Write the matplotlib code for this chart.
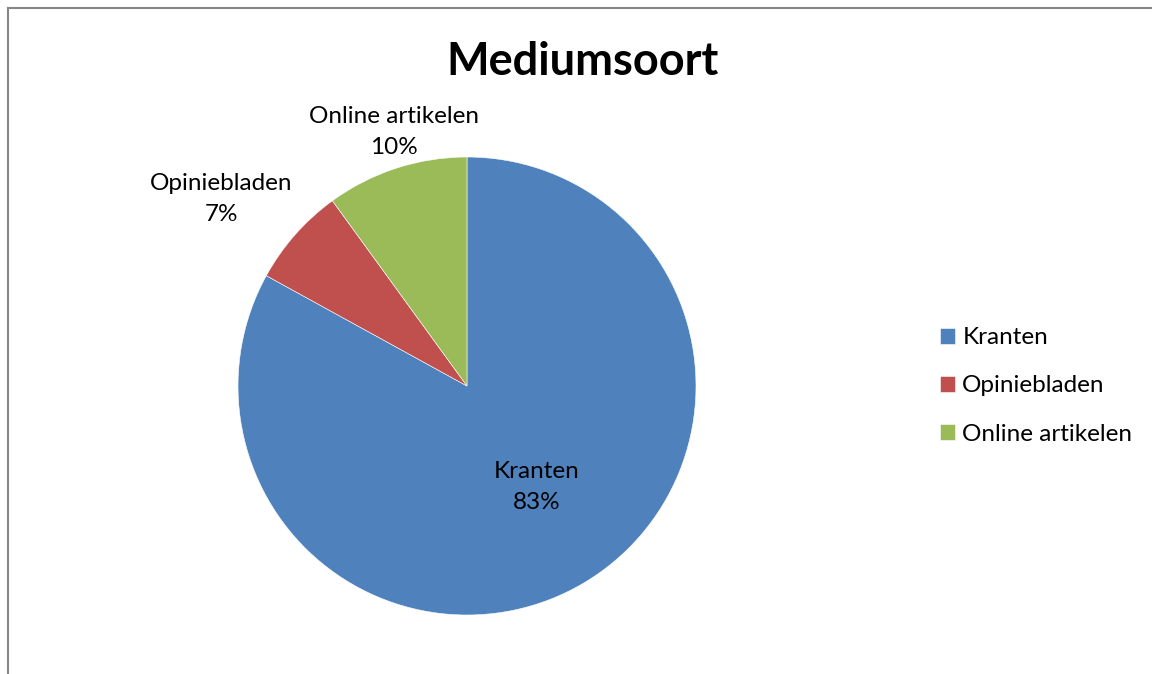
import matplotlib
matplotlib.use("Agg")
import matplotlib.pyplot as plt
from matplotlib.lines import Line2D

plt.rcParams['font.family'] = ['Lato', 'DejaVu Sans']

categories = ["Kranten", "Opiniebladen", "Online artikelen"]
shares = [83, 7, 10]
colors = ["#4F81BD", "#C0504D", "#9BBB59"]

W, H = 1152, 674
fig = plt.figure(figsize=(W / 100, H / 100), dpi=100)

# chart frame (only left and top edges are visible in the crop)
fig.add_artist(Line2D([8 / W, 8 / W], [0, 1 - 8 / H], color="#878787", lw=1.5,
                      transform=fig.transFigure))
fig.add_artist(Line2D([8 / W, 1], [1 - 8 / H, 1 - 8 / H], color="#878787", lw=1.5,
                      transform=fig.transFigure))

cx, cy, r = 467, 386, 229
ax = fig.add_axes([(cx - r) / W, (H - cy - r) / H, 2 * r / W, 2 * r / H])
wedges, _ = ax.pie(shares, colors=colors, startangle=90, counterclock=False,
                   radius=1, wedgeprops=dict(linewidth=0.4, edgecolor="white"))
ax.set_xlim(-1, 1)
ax.set_ylim(-1, 1)
ax.set_aspect("equal")
ax.axis("off")

# data labels, offsets in pixels from the centre
label_pos = [(70, -101), (-246, 187), (-73, 254)]
for name, val, (dx, dy) in zip(categories, shares, label_pos):
    ax.text(dx / r, dy / r, f"{name}\n{val}%", ha="center", va="center",
            fontsize=17.5, linespacing=1.6, clip_on=False)

fig.text(583 / W, 1 - 62 / H, "Mediumsoort", ha="center", va="center",
         fontsize=32.5, fontweight="bold")

fig.legend(wedges, categories, loc="center left",
           bbox_to_anchor=(940 / W, 1 - 386 / H), frameon=False,
           fontsize=17.5, handlelength=0.62, handleheight=0.62,
           handletextpad=0.3, labelspacing=1.12, borderpad=0,
           borderaxespad=0)

fig.savefig("out.png", dpi=100)
